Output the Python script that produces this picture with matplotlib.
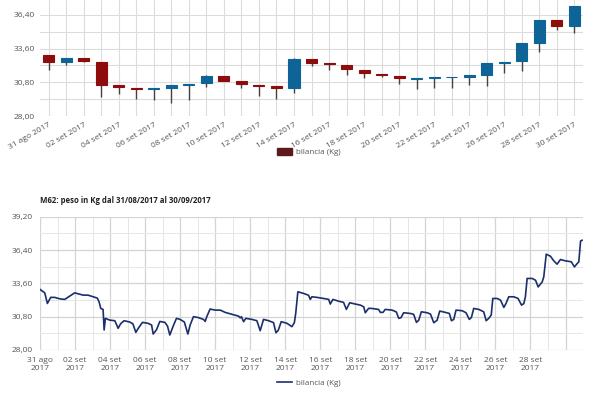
import numpy as np
import matplotlib
matplotlib.use("Agg")
import matplotlib.pyplot as plt
from matplotlib.patches import Patch
from matplotlib.lines import Line2D

plt.rcParams['font.family'] = ['Open Sans', 'DejaVu Sans']

# daily candles (31 ago .. 30 set)
day_labels = ['31 ago 2017', '01 set 2017', '02 set 2017', '03 set 2017', '04 set 2017',
              '05 set 2017', '06 set 2017', '07 set 2017', '08 set 2017', '09 set 2017',
              '10 set 2017', '11 set 2017', '12 set 2017', '13 set 2017', '14 set 2017',
              '15 set 2017', '16 set 2017', '17 set 2017', '18 set 2017', '19 set 2017',
              '20 set 2017', '21 set 2017', '22 set 2017', '23 set 2017', '24 set 2017',
              '25 set 2017', '26 set 2017', '27 set 2017', '28 set 2017', '29 set 2017',
              '30 set 2017']
c_open = [33.06, 32.45, 32.78, 32.48, 30.56, 30.36, 30.25, 30.36, 30.59, 30.75,
          31.34, 30.89, 30.61, 30.48, 30.34, 32.73, 32.37, 32.20, 31.84, 31.53,
          31.34, 31.06, 31.14, 31.20, 31.25, 31.39, 32.42, 32.53, 34.04, 35.98, 35.51]
c_close = [32.45, 32.78, 32.53, 30.61, 30.42, 30.28, 30.36, 30.56, 30.70, 31.34,
           30.92, 30.67, 30.48, 30.34, 32.73, 32.39, 32.28, 31.89, 31.59, 31.39,
           31.12, 31.14, 31.25, 31.28, 31.37, 32.37, 32.48, 34.04, 35.98, 35.51, 37.10]
c_high = [33.06, 32.78, 32.78, 32.48, 30.56, 30.36, 30.36, 30.61, 30.70, 31.39,
          31.34, 30.89, 30.61, 30.48, 32.78, 32.73, 32.37, 32.20, 31.84, 31.53,
          31.34, 31.14, 31.25, 31.28, 31.37, 32.37, 32.48, 34.04, 35.98, 35.98, 37.10]
c_low = [31.81, 32.20, 32.47, 29.59, 29.81, 29.42, 29.31, 29.11, 29.31, 30.42,
         30.92, 30.36, 29.67, 29.42, 29.92, 32.17, 31.81, 31.39, 31.12, 31.20,
         30.70, 30.28, 30.34, 30.36, 30.56, 30.48, 31.59, 31.73, 33.29, 35.15, 34.93]

# weight line (days since 31/08 00:00)
t_days = [0.0, 0.27, 0.42, 0.61, 0.84, 1.12, 1.41, 1.79, 1.98, 2.27, 2.46, 2.74, 3.03,
          3.27, 3.37, 3.47, 3.6, 3.66, 3.73, 3.98, 4.27, 4.46, 4.6, 4.8, 5.12, 5.3,
          5.47, 5.6, 5.85, 6.17, 6.37, 6.46, 6.65, 6.84, 7.13, 7.28, 7.41, 7.6, 7.79,
          8.0, 8.24, 8.44, 8.57, 8.76, 9.05, 9.33, 9.43, 9.52, 9.71, 10.0, 10.29,
          10.57, 10.95, 11.33, 11.43, 11.5, 11.62, 11.75, 12.1, 12.38, 12.57, 12.76,
          13.05, 13.33, 13.47, 13.6, 13.77, 14.1, 14.38, 14.52, 14.6, 14.72, 15.05,
          15.33, 15.43, 15.52, 15.81, 16.19, 16.48, 16.57, 16.72, 17.05, 17.33, 17.49,
          17.68, 18.0, 18.29, 18.48, 18.57, 18.76, 18.95, 19.33, 19.43, 19.58, 19.71,
          20.1, 20.34, 20.48, 20.61, 20.76, 21.14, 21.33, 21.49, 21.62, 21.77, 22.1,
          22.29, 22.48, 22.67, 22.82, 23.14, 23.37, 23.49, 23.62, 23.75, 24.1, 24.32,
          24.51, 24.63, 24.76, 25.05, 25.33, 25.47, 25.62, 25.76, 25.85, 26.1, 26.29,
          26.48, 26.6, 26.76, 27.05, 27.29, 27.49, 27.62, 27.71, 27.81, 28.1, 28.29,
          28.44, 28.67, 28.76, 28.9, 29.14, 29.33, 29.52, 29.71, 30.0, 30.33, 30.51,
          30.67, 30.76, 30.86, 30.95]
weight = [33.09, 32.80, 31.91, 32.42, 32.42, 32.30, 32.25, 32.61, 32.80, 32.69, 32.61,
          32.61, 32.47, 32.36, 32.05, 31.49, 31.41, 29.68, 30.66, 30.51, 30.46, 29.82,
          30.2, 30.46, 30.35, 30.2, 29.48, 29.8, 30.32, 30.24, 30.1, 29.34, 29.7, 30.4,
          30.32, 30.0, 29.26, 30.0, 30.66, 30.57, 30.35, 29.34, 30.1, 30.80, 30.72,
          30.57, 30.4, 30.8, 31.44, 31.35, 31.35, 31.16, 31.0, 30.85, 30.7, 30.8, 30.38,
          30.66, 30.57, 30.46, 29.62, 30.57, 30.46, 30.3, 29.45, 29.65, 30.38, 30.24,
          29.96, 30.3, 31.1, 32.89, 32.75, 32.6, 32.25, 32.47, 32.42, 32.33, 32.25,
          31.86, 32.25, 32.1, 32.0, 31.41, 31.97, 31.86, 31.77, 31.63, 31.13, 31.5,
          31.49, 31.41, 31.16, 31.16, 31.41, 31.35, 31.2, 30.66, 30.72, 31.13, 31.07,
          31.0, 30.32, 30.5, 31.21, 31.13, 31.02, 30.29, 30.5, 31.27, 31.16, 31.07,
          30.46, 30.57, 31.35, 31.3, 31.13, 30.57, 30.74, 31.49, 31.41, 31.21, 30.46,
          30.66, 30.94, 32.33, 32.33, 32.19, 31.58, 31.9, 32.47, 32.47, 32.33, 31.77,
          31.9, 32.47, 34.01, 34.01, 33.86, 33.30, 33.72, 34.15, 36.05, 35.88, 35.49,
          35.21, 35.6, 35.49, 35.41, 34.98, 35.27, 35.41, 37.16, 37.22]

line_ticks = [0, 2, 4, 6, 8, 10, 12, 14, 16, 18, 20, 22, 24, 26, 28, 30]
line_tick_labels = ['31 ago\n2017', '02 set\n2017', '04 set\n2017', '06 set\n2017',
                    '08 set\n2017', '10 set\n2017', '12 set\n2017', '14 set\n2017',
                    '16 set\n2017', '18 set\n2017', '20 set\n2017', '22 set\n2017',
                    '24 set\n2017', '26 set\n2017', '28 set\n2017', '']
y_ticks = [28.0, 30.8, 33.6, 36.4, 39.2]

red = '#8e0c0c'
blue = '#0e6496'
navy = '#1b2f6b'
grid_c = '#dcdcdc'
text_c = '#555555'

fig = plt.figure(figsize=(6, 3.97), dpi=100)

# ---- candlestick chart ----
ax1 = fig.add_axes([0.0667, 0.7078, 0.905, 0.2922])
x = np.arange(len(day_labels))
o = np.array(c_open)
c = np.array(c_close)
colors = [blue if cc >= oo else red for oo, cc in zip(o, c)]
ax1.vlines(x, c_low, c_high, color='#4a4040', lw=1, zorder=2)
ax1.bar(x, np.abs(c - o), bottom=np.minimum(o, c), width=0.63,
        color=colors, edgecolor=colors, lw=0.8, zorder=3)
ax1.set_xlim(-0.5, len(x) - 0.5)
ax1.set_ylim(28, 37.64)
ax1.set_yticks(y_ticks[:4])
ax1.set_yticklabels([f'{v:.2f}'.replace('.', ',') for v in y_ticks[:4]])
ax1.set_yticks(np.arange(29.4, 37.6, 2.8), minor=True)
ax1.set_xticks(x)
ax1.set_xticklabels([lab if i % 2 == 0 else '' for i, lab in enumerate(day_labels)],
                    rotation=30, ha='right', rotation_mode='anchor')
ax1.grid(True, which='both', color=grid_c, lw=0.8, zorder=0)
ax1.set_axisbelow(True)
for s in ax1.spines.values():
    s.set_visible(False)
ax1.tick_params(which='both', length=0, labelsize=6, colors=text_c, pad=4)

fig.legend(handles=[Patch(color='#5c1a1c', label='bilancia (Kg)')],
           loc='center', bbox_to_anchor=(0.515, 0.617), frameon=False,
           fontsize=5.8, handlelength=1.8, handleheight=1.0, handletextpad=0.5,
           labelcolor=text_c)

# ---- line chart ----
fig.text(0.0667, 0.496, 'M62: peso in Kg dal 31/08/2017 al 30/09/2017',
         fontsize=5.6, fontweight='bold', color='#222222', va='center')

ax2 = fig.add_axes([0.0667, 0.1184, 0.905, 0.3358])
ax2.plot(t_days, weight, color=navy, lw=1.2, zorder=3)
ax2.set_xlim(0, 31)
ax2.set_ylim(28, 39.2)
ax2.set_yticks(y_ticks)
ax2.set_yticklabels([f'{v:.2f}'.replace('.', ',') for v in y_ticks])
ax2.set_yticks(np.arange(29.4, 39.2, 2.8), minor=True)
ax2.set_xticks(line_ticks)
ax2.set_xticklabels(line_tick_labels)
ax2.set_xticks(np.arange(1, 31, 2), minor=True)
ax2.grid(True, which='major', color='#d4d4d4', lw=0.9, zorder=0)
ax2.grid(True, which='minor', color='#e6e6e6', lw=0.7, zorder=0)
ax2.set_axisbelow(True)
for s in ax2.spines.values():
    s.set_visible(False)
ax2.tick_params(which='both', length=0, labelsize=6, colors=text_c, pad=5)

fig.legend(handles=[Line2D([], [], color=navy, lw=1.2, label='bilancia (Kg)')],
           loc='center', bbox_to_anchor=(0.515, 0.036), frameon=False,
           fontsize=5.8, handlelength=1.8, handletextpad=0.5, labelcolor=text_c)

fig.savefig('out.png', dpi=100)
